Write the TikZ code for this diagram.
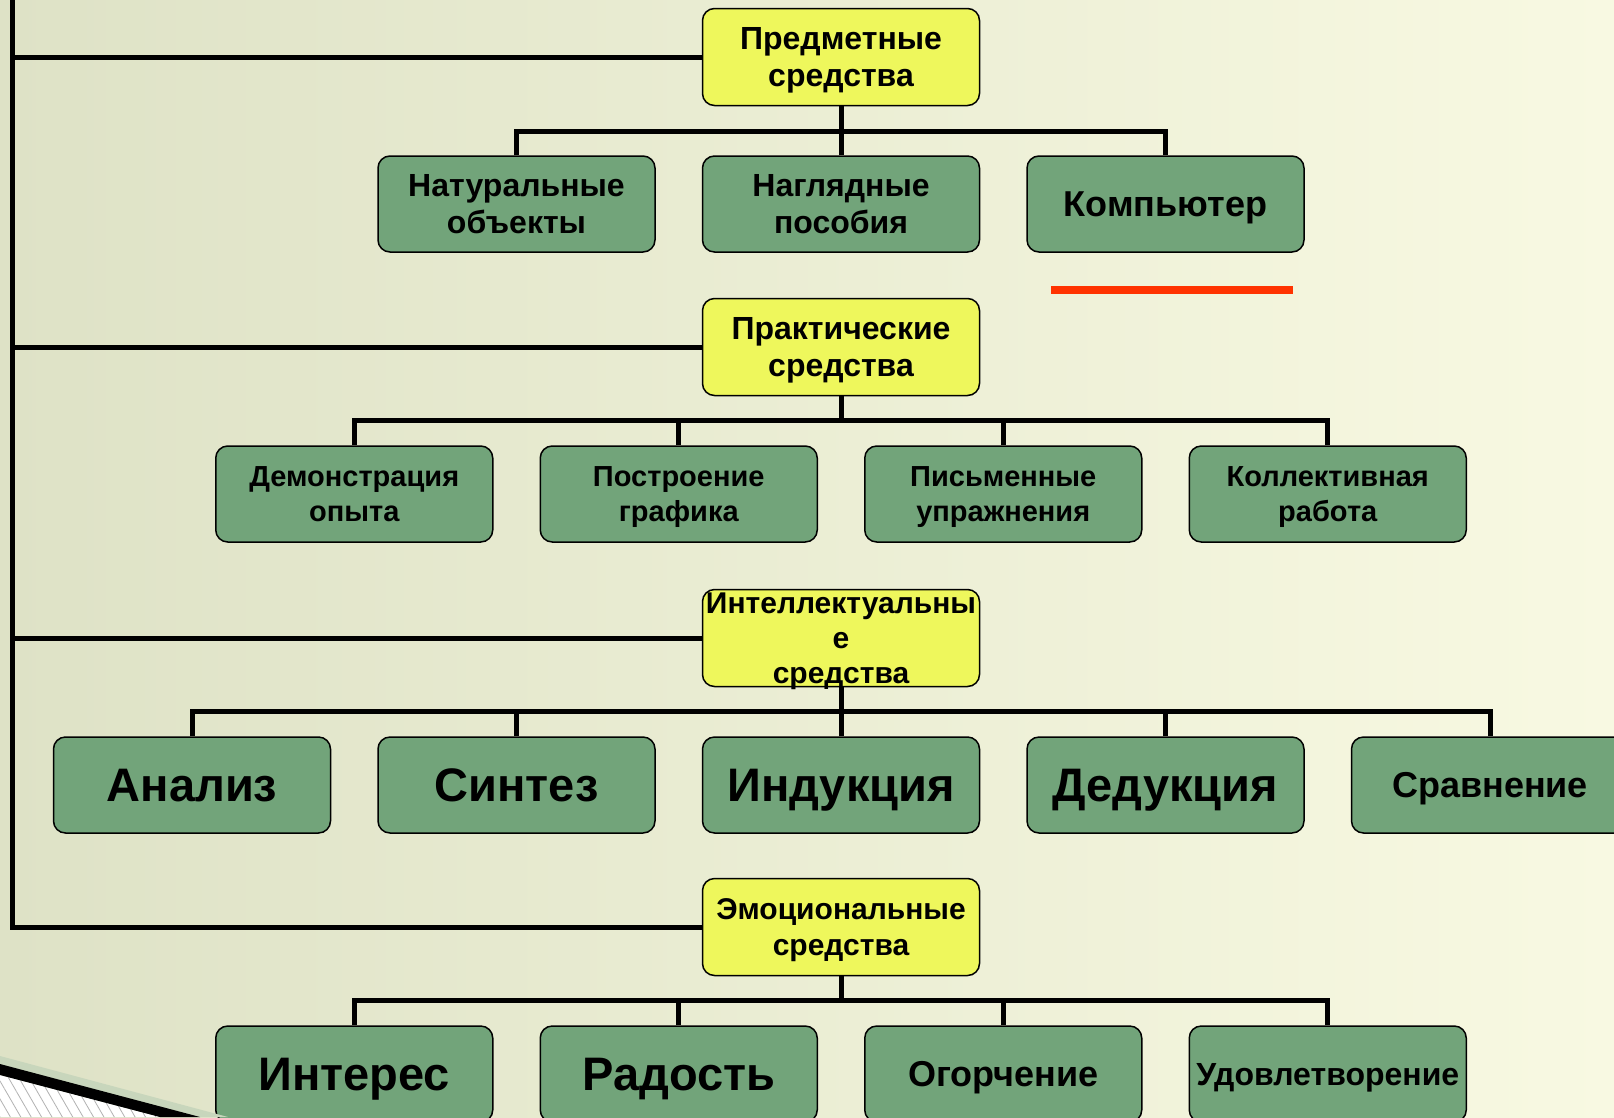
\documentclass[tikz,border=0pt]{standalone}
\usepackage{fontspec}
\setmainfont{Liberation Sans}
\usetikzlibrary{positioning, patterns.meta}

\definecolor{headyellow}{RGB}{238,247,92}
\definecolor{itemgreen}{RGB}{114,164,122}
\definecolor{bgleft}{RGB}{222,226,198}
\definecolor{bgright}{RGB}{248,249,226}
\definecolor{redline}{RGB}{255,51,0}
\definecolor{bandgreen}{RGB}{200,214,188}

\begin{document}
\begin{tikzpicture}[
    x=1pt, y=1pt,
    node distance=49pt and 46pt,
    head/.style={rectangle, rounded corners=12pt, draw, line width=1.5pt, fill=headyellow, minimum width=277pt, minimum height=97pt, align=center, inner sep=0pt, text depth=0pt, font=\bfseries\fontsize{32}{37}\selectfont},
    item/.style={rectangle, rounded corners=12pt, draw, line width=1.5pt, fill=itemgreen, minimum width=277pt, minimum height=96pt, align=center, inner sep=0pt, text depth=0pt, font=\bfseries\fontsize{32}{37}\selectfont},
    smalltxt/.style={font=\bfseries\fontsize{29}{35}\selectfont},
    midtxt/.style={font=\bfseries\fontsize{36}{41}\selectfont},
    bigtxt/.style={font=\bfseries\fontsize{47}{54}\selectfont},
    conn/.style={line width=5pt}
]

\useasboundingbox (0,0) rectangle (1614,-1117);
\clip (0,0) rectangle (1614,-1117);
\shade[left color=bgleft, right color=bgright] (0,0) rectangle (1614,-1117);

% group 1
\node[head] (pred) at (841,-57) {Предметные\\средства};
\node[item, below=of pred] (nagl) {Наглядные\\пособия};
\node[item, left=of nagl] (nat) {Натуральные\\объекты};
\node[item, midtxt, right=of nagl] (comp) {Компьютер};

% group 2
\node[head] (prak) at (841,-347) {Практические\\средства};
\node[item, smalltxt, below left=49pt and 23pt of prak.south] (postr) {Построение\\графика};
\node[item, smalltxt, left=of postr] (demo) {Демонстрация\\опыта};
\node[item, smalltxt, below right=49pt and 23pt of prak.south] (pism) {Письменные\\упражнения};
\node[item, smalltxt, right=of pism] (koll) {Коллективная\\работа};

% group 3
\node[head, inner sep=-4pt, font=\bfseries\fontsize{30}{35}\selectfont] (intel) at (841,-638) {Интеллектуальны\\е\\средства};
\node[item, bigtxt, below=of intel] (ind) {Индукция};
\node[item, bigtxt, left=of ind] (sint) {Синтез};
\node[item, bigtxt, left=of sint] (anal) {Анализ};
\node[item, bigtxt, right=of ind] (ded) {Дедукция};
\node[item, midtxt, right=of ded] (sravn) {Сравнение};

% group 4
\node[head, font=\bfseries\fontsize{30}{36}\selectfont] (emo) at (841,-927) {Эмоциональные\\средства};
\node[item, bigtxt, below left=49pt and 23pt of emo.south] (rad) {Радость};
\node[item, bigtxt, left=of rad] (inter) {Интерес};
\node[item, midtxt, below right=49pt and 23pt of emo.south] (ogor) {Огорчение};
\node[item, right=of ogor] (udov) {Удовлетворение};

% connectors
\coordinate (trunk) at (12,4);
\draw[conn] (emo.west) -| (trunk);
\draw[conn] (pred.west) -- (pred.west -| trunk);
\draw[conn] (prak.west) -- (prak.west -| trunk);
\draw[conn] (intel.west) -- (intel.west -| trunk);

\foreach \c in {nat, nagl, comp}
    \draw[conn] (\c.north) -- ++(0,24) -| (pred.south);
\foreach \c in {demo, postr, pism, koll}
    \draw[conn] (\c.north) -- ++(0,25) -| (prak.south);
\foreach \c in {anal, sint, ind, ded, sravn}
    \draw[conn] (\c.north) -- ++(0,25) -| (intel.south);
\foreach \c in {inter, rad, ogor, udov}
    \draw[conn] (\c.north) -- ++(0,25) -| (emo.south);

\draw[redline, line width=8pt] (1051,-290) -- (1293,-290);

% corner decoration
\fill[bandgreen] (0,-1056) -- (228,-1117) -- (0,-1117) -- cycle;
\fill[white] (0,-1075) -- (160,-1117) -- (0,-1117) -- cycle;
\fill[pattern={Lines[angle=-60, distance=9pt, line width=0.8pt]}, pattern color=gray!60] (0,-1075) -- (160,-1117) -- (0,-1117) -- cycle;
\fill[black] (0,-1064) -- (200,-1117) -- (160,-1117) -- (0,-1075) -- cycle;

\end{tikzpicture}
\end{document}
